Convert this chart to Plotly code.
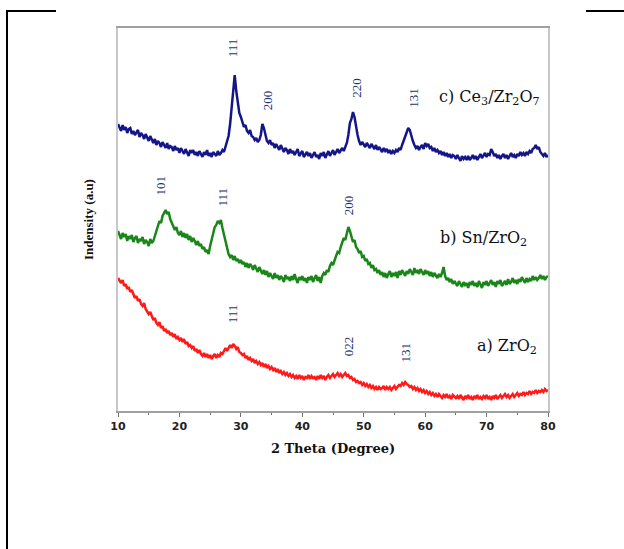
import numpy as np
import plotly.graph_objects as go

# 2-theta sampling grid (degrees), 0.25 deg step
two_theta = np.arange(10, 80.001, 0.25)

# c) Ce3/Zr2O7 intensity (a.u., offset-stacked)
int_ce = [
    287, 283, 280, 286, 281, 284, 278, 282, 283, 277, 280, 276,
    279, 281, 274, 278, 276, 272, 277, 273, 270, 275, 271, 268,
    272, 266, 270, 268, 264, 269, 266, 263, 268, 262, 265, 264,
    260, 265, 261, 263, 258, 263, 260, 257, 262, 259, 255, 261,
    258, 261, 256, 259, 255, 260, 257, 254, 259, 256, 261, 255,
    258, 254, 259, 257, 255, 260, 256, 258, 261, 259, 264, 268,
    275, 287, 304, 322, 336, 320, 308, 298, 294, 288, 284, 286,
    280, 278, 281, 275, 274, 271, 273, 269, 271, 276, 287, 283,
    276, 270, 268, 271, 266, 268, 263, 267, 264, 261, 266, 262,
    259, 263, 261, 257, 262, 258, 260, 256, 259, 262, 255, 258,
    260, 254, 257, 259, 255, 258, 253, 257, 259, 254, 256, 252,
    258, 255, 259, 253, 257, 260, 255, 258, 261, 256, 259, 262,
    258, 261, 263, 260, 264, 268, 276, 288, 292, 299, 294, 284,
    276, 270, 266, 269, 267, 264, 268, 266, 263, 267, 265, 262,
    266, 261, 264, 262, 259, 263, 260, 262, 258, 261, 257, 260,
    258, 261, 259, 263, 261, 266, 270, 274, 278, 283, 281, 275,
    270, 266, 263, 265, 261, 264, 266, 262, 268, 265, 267, 263,
    264, 260, 263, 259, 261, 258, 260, 256, 259, 255, 258, 254,
    257, 253, 256, 255, 252, 256, 253, 250, 255, 252, 254, 251,
    255, 251, 253, 256, 252, 255, 251, 254, 257, 253, 255, 258,
    254, 257, 256, 262, 259, 255, 257, 253, 256, 252, 255, 257,
    253, 256, 252, 255, 258, 254, 256, 253, 257, 255, 259, 256,
    258, 255, 259, 257, 260, 258, 262, 263, 266, 262, 264, 259,
    257, 255, 258, 254, 256]

# b) Sn/ZrO2
int_sn = [
    180, 176, 172, 178, 174, 177, 170, 175, 172, 176, 169, 173,
    175, 168, 172, 170, 174, 167, 171, 169, 165, 172, 168, 170,
    176, 181, 185, 190, 188, 195, 199, 201, 197, 199, 192, 188,
    185, 181, 184, 178, 176, 180, 174, 178, 173, 177, 171, 175,
    169, 173, 170, 166, 170, 165, 167, 162, 164, 159, 161, 157,
    165, 171, 178, 184, 186, 190, 188, 191, 183, 176, 169, 162,
    157, 154, 156, 151, 155, 150, 152, 148, 151, 147, 149, 144,
    148, 143, 147, 145, 141, 146, 142, 139, 144, 140, 137, 141,
    136, 140, 134, 138, 135, 132, 138, 133, 136, 131, 135, 133,
    129, 136, 132, 134, 130, 135, 131, 137, 132, 128, 134, 131,
    135, 130, 133, 128, 134, 131, 135, 129, 133, 136, 130, 134,
    128, 135, 138, 136, 141, 139, 145, 148, 146, 152, 155, 159,
    158, 164, 168, 173, 171, 178, 184, 180, 175, 169, 171, 164,
    162, 158, 160, 154, 155, 150, 152, 147, 148, 143, 146, 141,
    142, 138, 141, 136, 139, 134, 138, 133, 137, 140, 134, 138,
    135, 139, 133, 140, 136, 141, 138, 135, 140, 137, 142, 139,
    136, 143, 138, 141, 137, 142, 139, 136, 141, 137, 140, 135,
    139, 134, 138, 136, 133, 137, 134, 138, 144, 135, 131, 133,
    129, 132, 127, 130, 128, 125, 130, 127, 124, 129, 126, 128,
    123, 129, 126, 130, 125, 128, 124, 130, 127, 123, 129, 126,
    130, 125, 128, 131, 126, 129, 124, 130, 127, 131, 125, 128,
    130, 126, 132, 127, 129, 133, 128, 131, 127, 132, 129, 134,
    130, 128, 133, 129, 132, 130, 135, 131, 134, 131, 133, 136,
    132, 135, 131, 134, 135]

# a) ZrO2
int_zr = [
    133, 130, 128, 131, 125, 127, 122, 124, 119, 121, 116, 113,
    115, 110, 112, 107, 105, 108, 102, 100, 97, 99, 94, 91,
    93, 88, 86, 89, 83, 85, 80, 82, 78, 80, 76, 78,
    74, 77, 72, 74, 71, 73, 69, 72, 67, 69, 65, 66,
    63, 65, 60, 62, 58, 61, 57, 55, 58, 54, 57, 53,
    56, 52, 55, 57, 53, 56, 54, 58, 57, 61, 63, 60,
    64, 66, 63, 67, 65, 62, 64, 59, 58, 56, 57, 53,
    55, 51, 53, 50, 52, 48, 50, 47, 49, 46, 48, 44,
    47, 43, 45, 42, 44, 41, 43, 39, 42, 38, 40, 37,
    39, 36, 38, 35, 37, 34, 36, 33, 35, 32, 36, 33,
    35, 31, 34, 33, 36, 32, 35, 33, 34, 31, 35, 32,
    36, 33, 35, 31, 34, 36, 33, 35, 37, 34, 36, 38,
    35, 37, 34, 36, 38, 35, 36, 33, 34, 31, 32, 29,
    30, 28, 29, 26, 28, 25, 27, 24, 26, 23, 25, 22,
    24, 21, 24, 22, 23, 25, 21, 24, 22, 24, 21, 23,
    25, 22, 24, 26, 25, 28, 26, 29, 27, 26, 24, 25,
    22, 24, 21, 23, 20, 22, 19, 21, 18, 20, 17, 19,
    16, 18, 15, 17, 14, 17, 15, 13, 16, 14, 17, 13,
    15, 12, 16, 14, 13, 15, 12, 16, 14, 11, 15, 13,
    16, 12, 14, 11, 15, 13, 16, 12, 14, 12, 15, 13,
    16, 12, 14, 11, 15, 13, 16, 12, 14, 16, 13, 15,
    17, 14, 16, 13, 15, 17, 14, 16, 18, 15, 17, 16,
    19, 16, 18, 17, 20, 17, 19, 18, 21, 18, 20, 19,
    21, 19, 22, 20, 21]

# peak labels: (2theta, intensity, text)
peak_labels = [
    (28.6, 363, "111"), (34.3, 311, "200"), (48.7, 323, "220"), (58.0, 313, "131"),
    (16.9, 226, "101"), (27.0, 214, "111"), (47.5, 206, "200"),
    (28.6, 97, "111"), (47.5, 65, "022"), (56.8, 59, "131"),
]
sample_labels = [
    (70.4, 314, "c) Ce<sub>3</sub>/Zr<sub>2</sub>O<sub>7</sub>"),
    (69.5, 173, "b) Sn/ZrO<sub>2</sub>"),
    (73.3, 65, "a) ZrO<sub>2</sub>"),
]

fig = go.Figure()
fig.add_trace(go.Scatter(x=two_theta, y=int_zr, mode="lines",
                         line=dict(color="#ff1a1a", width=2.5), showlegend=False))
fig.add_trace(go.Scatter(x=two_theta, y=int_sn, mode="lines",
                         line=dict(color="#1a861a", width=2.5), showlegend=False))
fig.add_trace(go.Scatter(x=two_theta, y=int_ce, mode="lines",
                         line=dict(color="#15158a", width=2.5), showlegend=False))

for x, y, t in peak_labels:
    fig.add_annotation(x=x, y=y, text=t, showarrow=False, textangle=-90,
                       font=dict(family="Liberation Serif", size=13, color="#22336f"))
for x, y, t in sample_labels:
    fig.add_annotation(x=x, y=y, text=t, showarrow=False,
                       font=dict(family="DejaVu Serif", size=16, color="#111111"))

# page border fragments
px2x = lambda px: (px - 118) / 430
py2y = lambda py: (411 - py) / 383
border = dict(color="black", width=2)
fig.add_shape(type="line", xref="paper", yref="paper",
              x0=px2x(7), x1=px2x(7), y0=py2y(11), y1=py2y(560), line=border)
fig.add_shape(type="line", xref="paper", yref="paper",
              x0=px2x(6), x1=px2x(56), y0=py2y(11), y1=py2y(11), line=border)
fig.add_shape(type="line", xref="paper", yref="paper",
              x0=px2x(586), x1=px2x(630), y0=py2y(11), y1=py2y(11), line=border)

fig.update_layout(
    width=624, height=549,
    margin=dict(l=118, r=76, t=28, b=138),
    paper_bgcolor="white", plot_bgcolor="white",
    xaxis=dict(range=[10, 80], tickvals=[10, 20, 30, 40, 50, 60, 70, 80],
               showline=True, linecolor="#a0a0a0", linewidth=1.5, mirror=True,
               ticks="outside", ticklen=4, tickcolor="#707070",
               minor=dict(dtick=5, ticks="outside", ticklen=2, tickcolor="#707070"),
               showgrid=False, zeroline=False,
               tickfont=dict(family="DejaVu Sans", size=11, color="#222222", weight="bold"),
               title=dict(text="<b>2 Theta (Degree)</b>", standoff=12,
                          font=dict(family="DejaVu Serif", size=13, color="#111111"))),
    yaxis=dict(range=[0, 383], showticklabels=False, ticks="",
               showline=True, linecolor="#c8c8c8", linewidth=1.5, mirror=True,
               showgrid=False, zeroline=False,
               title=dict(text="<b>Indensity (a.u)</b>", standoff=20,
                          font=dict(family="Liberation Serif", size=13, color="#111111"))),
)

fig.write_html("out.html")
